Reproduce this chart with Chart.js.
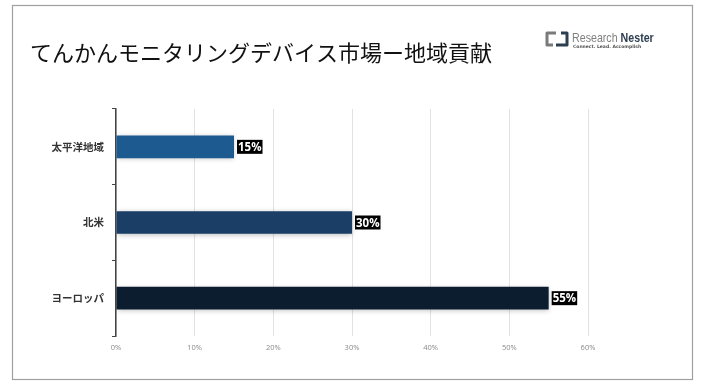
<!DOCTYPE html>
<html><head><meta charset="utf-8">
<script src="https://cdn.jsdelivr.net/npm/chart.js@4/dist/chart.umd.min.js"></script>
<style>html,body{margin:0;padding:0;background:#fff}#wrap{width:702px;height:388px;position:relative}</style>
</head><body><div id="wrap"><canvas id="c" width="702" height="388"></canvas></div>
<script>
const categories = ['太平洋地域', '北米', 'ヨーロッパ'];
const values = [15, 30, 55];
const barColors = ['#1d5a90', '#1a3e65', '#0c1d2f'];
const xTicks = [0, 10, 20, 30, 40, 50, 60];
const titleText = 'てんかんモニタリングデバイス市場ー地域貢献';

const decor = {
  id: 'decor',
  beforeDraw(chart) {
    const ctx = chart.ctx;
    ctx.save();
    ctx.fillStyle = '#fff';
    ctx.fillRect(0, 0, chart.width, chart.height);
    ctx.strokeStyle = '#a0a0a0';
    ctx.lineWidth = 1.2;
    ctx.strokeRect(12.5, 5.5, 680, 374);
    ctx.fillStyle = '#111';
    ctx.font = '22px "Noto Sans CJK JP"';
    ctx.textBaseline = 'middle';
    ctx.fillText(titleText, 30, 53);
    // logo
    ctx.lineWidth = 3;
    ctx.lineJoin = 'round';
    ctx.strokeStyle = '#7a7a7a';
    ctx.beginPath();
    ctx.moveTo(556, 33); ctx.lineTo(547, 33); ctx.lineTo(547, 45); ctx.lineTo(553, 45);
    ctx.stroke();
    ctx.strokeStyle = '#2d3e50';
    ctx.beginPath();
    ctx.moveTo(556, 45); ctx.lineTo(567, 45); ctx.lineTo(567, 33); ctx.lineTo(561, 33);
    ctx.stroke();
    ctx.save();
    ctx.translate(572, 38);
    ctx.scale(0.82, 1);
    ctx.font = '13px "Liberation Sans"';
    ctx.fillStyle = '#808080';
    ctx.fillText('Research', 0, 0);
    const w = ctx.measureText('Research ').width;
    ctx.font = 'bold 13px "Liberation Sans"';
    ctx.fillStyle = '#2d3e50';
    ctx.fillText('Nester', w, 0);
    ctx.restore();
    ctx.font = 'bold 4.5px "DejaVu Sans"';
    ctx.fillStyle = '#555';
    ctx.fillText('Connect. Lead. Accomplish', 573, 47);
    ctx.restore();
  },
  beforeDatasetsDraw(chart) {
    const ctx = chart.ctx;
    ctx.save();
    ctx.shadowColor = 'rgba(0,0,0,0.25)';
    ctx.shadowBlur = 5;
    ctx.shadowOffsetY = 1;
  },
  afterDatasetsDraw(chart) {
    const ctx = chart.ctx;
    ctx.restore();
    const meta = chart.getDatasetMeta(0);
    ctx.save();
    ctx.font = 'bold 11.5px "Open Sans"';
    ctx.textBaseline = 'middle';
    meta.data.forEach((bar, i) => {
      const t = values[i] + '%';
      const tw = ctx.measureText(t).width;
      const x = bar.x + 3, y = bar.y;
      ctx.fillStyle = '#000';
      ctx.fillRect(x, y - 7, tw + 2, 14);
      ctx.fillStyle = '#fff';
      ctx.fillText(t, x + 1, y + 1);
    });
    ctx.restore();
  }
};

new Chart(document.getElementById('c'), {
  type: 'bar',
  data: {
    labels: categories,
    datasets: [{
      data: values,
      backgroundColor: barColors,
      borderWidth: 0,
      categoryPercentage: 1,
      barPercentage: 0.3
    }]
  },
  options: {
    indexAxis: 'y',
    responsive: false,
    animation: false,
    layout: { padding: { top: 109, right: 114, left: 0, bottom: 0 } },
    plugins: { legend: { display: false }, tooltip: { enabled: false } },
    scales: {
      x: {
        min: 0, max: 60,
        afterBuildTicks(s) { s.ticks = xTicks.map(v => ({ value: v })); },
        afterFit(s) { s.height = 52; },
        grid: { color: '#e2e2e2', drawTicks: false, lineWidth: 1 },
        border: { display: false },
        ticks: {
          padding: 7,
          color: '#8a8a8a',
          font: { family: 'Open Sans', size: 7.5 },
          callback: v => v + '%'
        }
      },
      y: {
        afterFit(s) { s.width = 116; },
        grid: { offset: true, drawOnChartArea: false, color: '#444', tickLength: 4 },
        border: { display: true, color: '#444', width: 1.5 },
        ticks: {
          padding: 8,
          color: '#333',
          font: { family: 'Noto Sans CJK JP', size: 10.5, weight: 'bold' }
        }
      }
    }
  },
  plugins: [decor]
});
</script></body></html>
